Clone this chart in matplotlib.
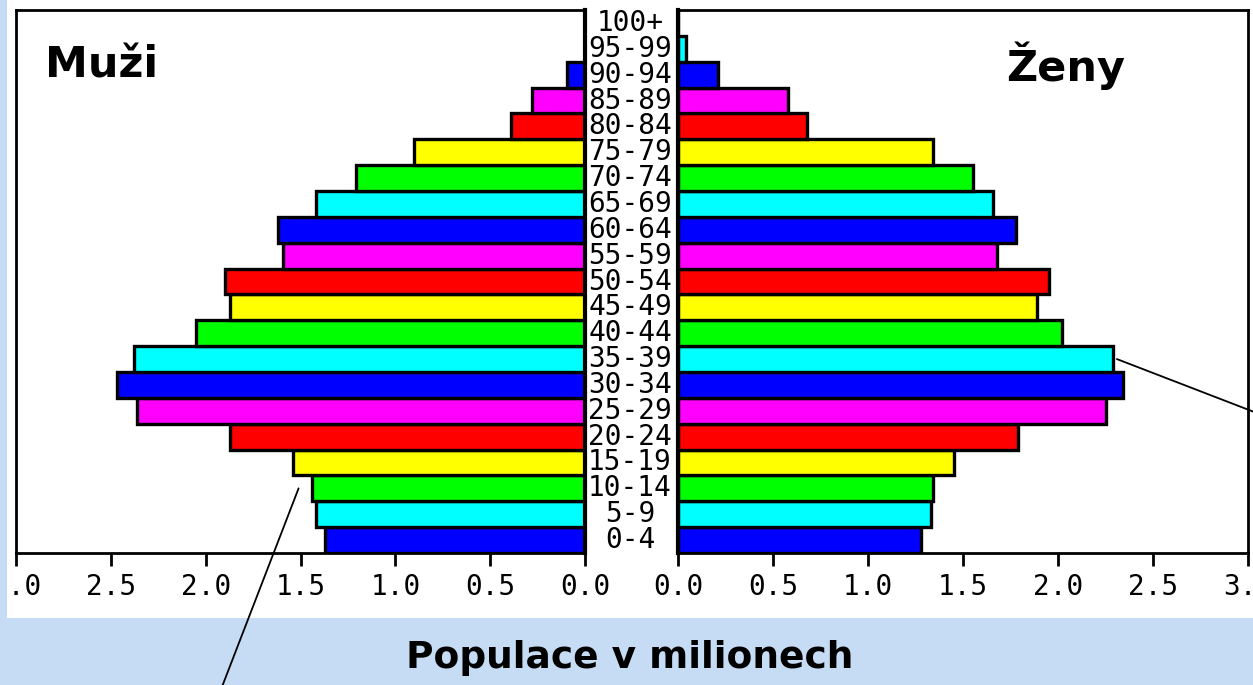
import matplotlib
matplotlib.use("Agg")
import matplotlib.pyplot as plt
from matplotlib.patches import Rectangle
from matplotlib.transforms import blended_transform_factory

# ----------------------------------------------------------------------
#     data (population in millions)
# ----------------------------------------------------------------------

age_groups = ["0-4", "5-9", "10-14", "15-19", "20-24", "25-29", "30-34",
              "35-39", "40-44", "45-49", "50-54", "55-59", "60-64",
              "65-69", "70-74", "75-79", "80-84", "85-89", "90-94",
              "95-99", "100+"]

men = [1.37, 1.42, 1.44, 1.54, 1.87, 2.36, 2.47, 2.38, 2.05, 1.87, 1.90,
       1.59, 1.62, 1.42, 1.21, 0.90, 0.39, 0.28, 0.095, 0.0, 0.0]

women = [1.28, 1.33, 1.34, 1.45, 1.79, 2.25, 2.34, 2.29, 2.02, 1.89, 1.95,
         1.68, 1.78, 1.66, 1.55, 1.34, 0.68, 0.58, 0.21, 0.04, 0.0]

palette = ["#0000ff", "#00ffff", "#00ff00", "#ffff00", "#ff0000", "#ff00ff"]
ticks = [0.0, 0.5, 1.0, 1.5, 2.0, 2.5, 3.0]
tick_labels = ["0.0", "0.5", "1.0", "1.5", "2.0", "2.5", "3.0"]

W, H = 1253, 685
fig = plt.figure(figsize=(W / 100, H / 100), dpi=100)
fig.patch.set_facecolor("#c6dbf4")

# white slide area, kept behind the axes
panel = Rectangle((7 / W, 67 / H), 1 - 7 / W, 1 - 67 / H,
                  transform=fig.transFigure, facecolor="white",
                  edgecolor="none", zorder=-5)
fig.patches.append(panel)

ax_m = fig.add_axes([16 / W, 132 / H, 569 / W, 543 / H])
ax_w = fig.add_axes([678 / W, 132 / H, 570 / W, 543 / H])

colors = [palette[i % len(palette)] for i in range(len(age_groups))]
ypos = list(range(len(age_groups)))

for ax, vals in ((ax_m, men), (ax_w, women)):
    ax.set_zorder(2)
    ax.barh(ypos, vals, height=1.0, color=colors, edgecolor="black",
            linewidth=2.4, zorder=2)
    ax.set_ylim(-0.5, len(age_groups) - 0.5)
    ax.set_yticks([])
    ax.set_xticks(ticks)
    ax.set_xticklabels(tick_labels, family="DejaVu Sans Mono", fontsize=20)
    ax.tick_params(axis="x", direction="out", length=9.5, width=2.0, pad=5)
    for s in ax.spines.values():
        s.set_linewidth(2.0)
    ax.set_facecolor("white")

ax_m.set_xlim(3.0, 0.0)
ax_w.set_xlim(0.0, 3.0)
ax_m.spines["right"].set_linewidth(3.0)
ax_w.spines["left"].set_linewidth(3.0)

# the slide cuts off the "3" of the left-most tick label
for lab in ax_m.get_xticklabels():
    lab.set_clip_path(panel)

# age group labels between the panels
tr = blended_transform_factory(fig.transFigure, ax_m.transData)
for y, lab in zip(ypos, age_groups):
    fig.text(630 / W, y, lab, transform=tr, ha="center", va="center",
             family="DejaVu Sans Mono", fontsize=20, zorder=3)

fig.text(45 / W, 1 - 65 / H, "Muži", ha="left", va="center",
         fontsize=31, fontweight="bold", zorder=3)
fig.text(1125 / W, 1 - 66 / H, "Ženy", ha="right", va="center",
         fontsize=31, fontweight="bold", zorder=3)
fig.text(630 / W, 1 - 658 / H, "Populace v milionech", ha="center",
         va="center", fontsize=27, fontweight="bold", zorder=3)

# leader lines pointing off the slide
ax_w.annotate("", xy=(women[7] + 0.02, 7), xycoords="data",
              xytext=(1262 / W, 1 - 415 / H), textcoords="figure fraction",
              arrowprops=dict(arrowstyle="-", lw=1.3, color="black",
                              shrinkA=0, shrinkB=0),
              annotation_clip=False)
ax_m.annotate("", xy=(men[2] + 0.07, 2), xycoords="data",
              xytext=(220 / W, 1 - 692 / H), textcoords="figure fraction",
              arrowprops=dict(arrowstyle="-", lw=1.3, color="black",
                              shrinkA=0, shrinkB=0),
              annotation_clip=False)

fig.savefig("out.png", dpi=100, facecolor=fig.get_facecolor())
